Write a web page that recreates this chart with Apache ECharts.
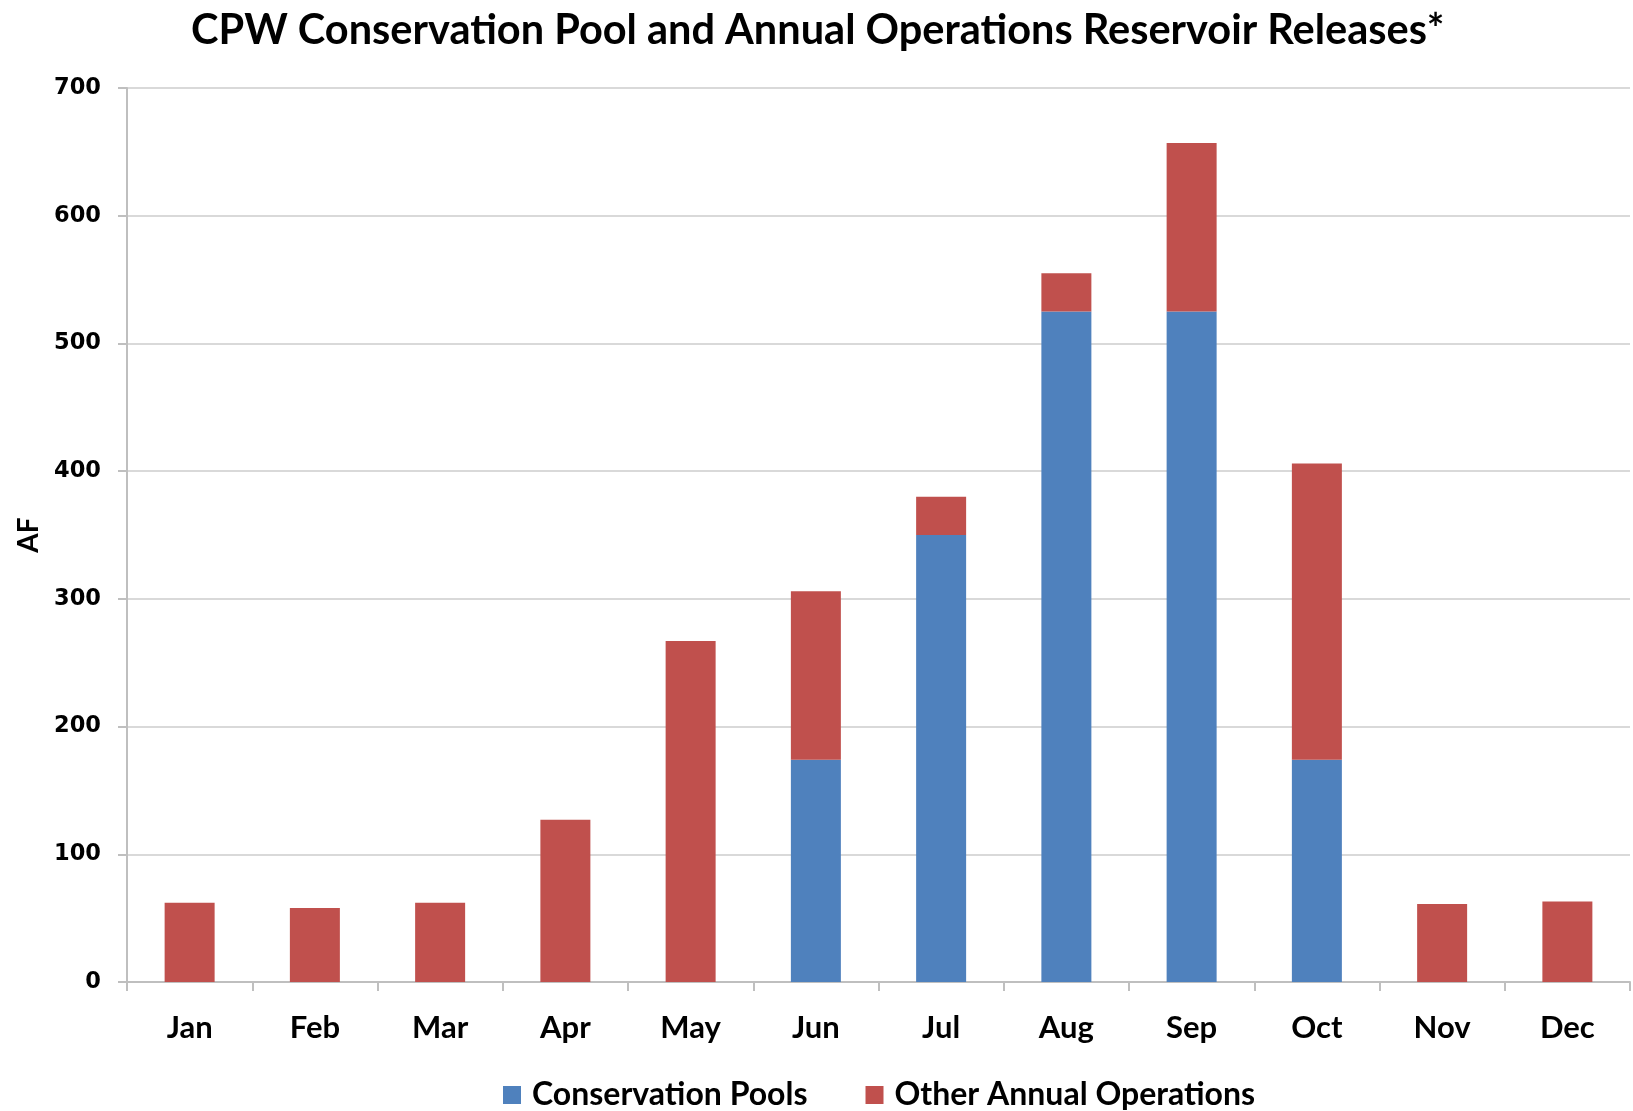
<!DOCTYPE html>
<html>
<head>
<meta charset="utf-8">
<script src="https://cdn.jsdelivr.net/npm/echarts@6/dist/echarts.min.js"></script>
<style>
  html, body { margin: 0; padding: 0; background: #fff; }
  #chart { width: 1633px; height: 1111px; }
</style>
</head>
<body>
<div id="chart"></div>
<script>
// Monthly reservoir releases (acre-feet)
const months = ['Jan', 'Feb', 'Mar', 'Apr', 'May', 'Jun', 'Jul', 'Aug', 'Sep', 'Oct', 'Nov', 'Dec'];
const conservationPools = [0, 0, 0, 0, 0, 174, 350, 525, 525, 174, 0, 0];
const otherAnnualOps = [62, 58, 62, 127, 267, 132, 30, 30, 132, 232, 61, 63];
const yTicks = { min: 0, max: 700, interval: 100 };

const chart = echarts.init(document.getElementById('chart'));

chart.setOption({
  animation: false,
  backgroundColor: '#ffffff',
  title: {
    text: 'CPW Conservation Pool and Annual Operations Reservoir Releases*',
    left: 186,
    top: 5,
    textStyle: { fontFamily: 'Lato', fontWeight: 'bold', fontSize: 41.5, color: '#000' }
  },
  legend: {
    left: 498,
    top: 1074,
    itemWidth: 18,
    itemHeight: 18,
    itemGap: 58,
    icon: 'rect',
    textStyle: { fontFamily: 'Lato', fontWeight: 'bold', fontSize: 32, color: '#000', padding: [0, 0, 0, 6] },
    data: ['Conservation Pools', 'Other Annual Operations']
  },
  grid: { left: 127, right: 3, top: 88, bottom: 129, containLabel: false },
  xAxis: {
    type: 'category',
    data: months,
    axisLine: { lineStyle: { color: '#bfbfbf', width: 2 } },
    axisTick: { show: true, length: 9, lineStyle: { color: '#bfbfbf', width: 2 } },
    axisLabel: { fontFamily: 'Lato', fontWeight: 'bold', fontSize: 31, color: '#000', margin: 30 }
  },
  yAxis: {
    type: 'value',
    min: yTicks.min,
    max: yTicks.max,
    interval: yTicks.interval,
    name: 'AF',
    nameLocation: 'middle',
    nameGap: 84,
    nameRotate: 90,
    nameTextStyle: { fontFamily: 'Lato', fontWeight: 'bold', fontSize: 28, color: '#000' },
    axisLine: { show: true, lineStyle: { color: '#bfbfbf', width: 2 } },
    axisTick: { show: true, length: 9, lineStyle: { color: '#bfbfbf', width: 2 } },
    splitLine: { lineStyle: { color: '#d9d9d9', width: 2 } },
    axisLabel: { fontFamily: 'DejaVu Sans', fontWeight: 'bold', fontSize: 22.5, color: '#000', margin: 26 }
  },
  series: [
    {
      name: 'Conservation Pools',
      type: 'bar',
      stack: 'total',
      barWidth: 50,
      itemStyle: { color: '#4F81BD' },
      data: conservationPools
    },
    {
      name: 'Other Annual Operations',
      type: 'bar',
      stack: 'total',
      barWidth: 50,
      itemStyle: { color: '#C0504D' },
      data: otherAnnualOps
    }
  ]
});
</script>
</body>
</html>
